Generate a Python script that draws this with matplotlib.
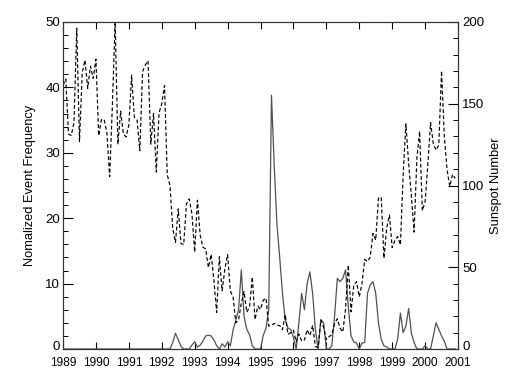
import numpy as np
import matplotlib
matplotlib.use("Agg")
import matplotlib.pyplot as plt
import matplotlib.transforms as mtransforms
from matplotlib.ticker import MultipleLocator

plt.rcParams['font.family'] = ['Liberation Sans', 'DejaVu Sans']

# Monthly sunspot number, Jan 1989 .. Dec 2000 (right axis)
sunspot = [
    161.3, 165.1, 131.4, 130.6, 138.5, 196.2, 126.9, 168.9, 176.7, 159.4, 173.0, 165.5,
    177.3, 130.5, 140.3, 140.3, 132.2, 105.4, 149.4, 200.3, 125.2, 145.5, 131.4, 129.7,
    136.9, 167.5, 141.9, 140.0, 121.3, 169.7, 173.7, 176.3, 125.3, 144.1, 108.2, 144.4,
    150.0, 161.1, 106.7, 99.8, 73.8, 65.2, 85.7, 64.5, 63.9, 88.7, 91.8, 82.6,
    59.3, 91.0, 69.8, 62.2, 61.3, 49.8, 57.9, 42.3, 22.4, 56.4, 35.6, 48.9,
    57.8, 35.5, 31.7, 16.1, 17.8, 28.0, 35.1, 22.5, 25.7, 44.0, 18.0, 26.2,
    24.2, 29.9, 31.1, 14.0, 14.5, 15.6, 14.5, 14.3, 11.8, 21.1, 9.0, 10.0,
    11.5, 4.4, 9.2, 4.8, 5.5, 11.8, 8.2, 14.4, 1.6, 0.9, 17.9, 13.3,
    5.7, 7.6, 8.7, 15.5, 18.5, 12.7, 10.4, 24.4, 51.3, 22.8, 39.0, 41.2,
    31.9, 40.3, 54.8, 53.4, 56.3, 70.7, 66.6, 92.2, 92.9, 55.5, 74.0, 81.9,
    62.0, 66.3, 68.8, 63.7, 106.4, 137.7, 113.5, 93.7, 71.5, 116.7, 133.2, 84.6,
    90.1, 112.9, 138.5, 125.5, 121.6, 124.9, 170.1, 130.5, 109.7, 99.4, 106.8, 104.4,
]

# Monthly normalized event frequency, Jan 1989 .. Dec 2000 (left axis)
event_freq = [
    0, 0, 0, 0, 0, 0, 0, 0, 0, 0, 0, 0,
    0, 0, 0, 0, 0, 0, 0, 0, 0, 0, 0, 0,
    0, 0, 0, 0, 0, 0, 0, 0, 0, 0, 0, 0,
    0, 0, 0, 0, 1.0, 2.4, 1.4, 0.4, 0, 0, 0, 0.6,
    1.1, 0.3, 0.6, 1.2, 2.0, 2.1, 2.0, 1.4, 0.5, 0, 0.8, 0.3,
    1.1, 0.5, 2.9, 4.4, 6.0, 12.1, 5.0, 3.0, 2.2, 0.5, 0, 0,
    0, 2.1, 3.2, 6.0, 38.8, 28.0, 19.0, 14.0, 8.5, 4.5, 3.2, 3.0,
    1.8, 0, 4.0, 8.5, 6.0, 10.0, 11.8, 8.5, 3.0, 0, 4.4, 4.0,
    0, 0, 0.5, 5.0, 10.8, 10.3, 10.8, 12.1, 6.5, 2.0, 1.1, 0.9,
    0, 0.9, 1.0, 8.5, 9.8, 10.3, 8.5, 4.0, 1.5, 0.5, 0.3, 0,
    0, 0, 1.5, 5.5, 2.5, 3.5, 6.2, 2.4, 1.0, 0, 0, 0,
    0.5, 0, 0, 2.0, 4.0, 3.0, 2.0, 1.2, 0, 0, 0, 0,
]

years = list(range(1989, 2002))
left_ticks = [0, 10, 20, 30, 40, 50]
right_ticks = [0, 50, 100, 150, 200]

t = 1989 + np.arange(len(sunspot)) / 12.0

fig = plt.figure(figsize=(5.17, 3.78), dpi=100)
ax = fig.add_axes([0.1219, 0.0767, 0.7640, 0.8651])
ax2 = ax.twinx()

ax.plot(t, event_freq, color='#505050', lw=0.9)
ax2.plot(t, sunspot, color='black', lw=0.85, dashes=(3.2, 2.0))

ax.set_xlim(1989, 2001)
ax.set_ylim(0, 50)
ax2.set_ylim(0, 200)

ax.set_xticks(years)
ax.set_xticklabels([str(y) for y in years])
ax.set_yticks(left_ticks)
ax.yaxis.set_minor_locator(MultipleLocator(2))
ax2.set_yticks(right_ticks)
ax2.yaxis.set_minor_locator(MultipleLocator(10))

ax.tick_params(axis='x', which='major', direction='in', length=5, width=0.8,
               top=True, bottom=True, labelsize=8.6, pad=6)
ax.tick_params(axis='y', which='major', direction='in', length=7, width=0.8,
               left=True, right=False, labelsize=9.5, pad=2)
ax.tick_params(axis='y', which='minor', direction='in', length=3.5, width=0.7,
               left=True, right=False)
ax2.tick_params(axis='y', which='major', direction='in', length=7, width=0.8,
                labelsize=9.5, pad=3)
ax2.tick_params(axis='y', which='minor', direction='in', length=3.5, width=0.7)

for a in (ax, ax2):
    for s in a.spines.values():
        s.set_linewidth(0.8)
        s.set_color('#333333')

# raise the "0" labels slightly, as in the reference
fig.canvas.draw()
shift = mtransforms.ScaledTranslation(0, 4 / 100, fig.dpi_scale_trans)
for a in (ax, ax2):
    lab = a.get_yticklabels()[0]
    lab.set_transform(lab.get_transform() + shift)

ax.set_ylabel('Nomalized Event Frequency', fontsize=9.3, labelpad=7)
ax2.set_ylabel('Sunspot Number', fontsize=9.3, labelpad=4)

fig.savefig('out.png', dpi=100)
